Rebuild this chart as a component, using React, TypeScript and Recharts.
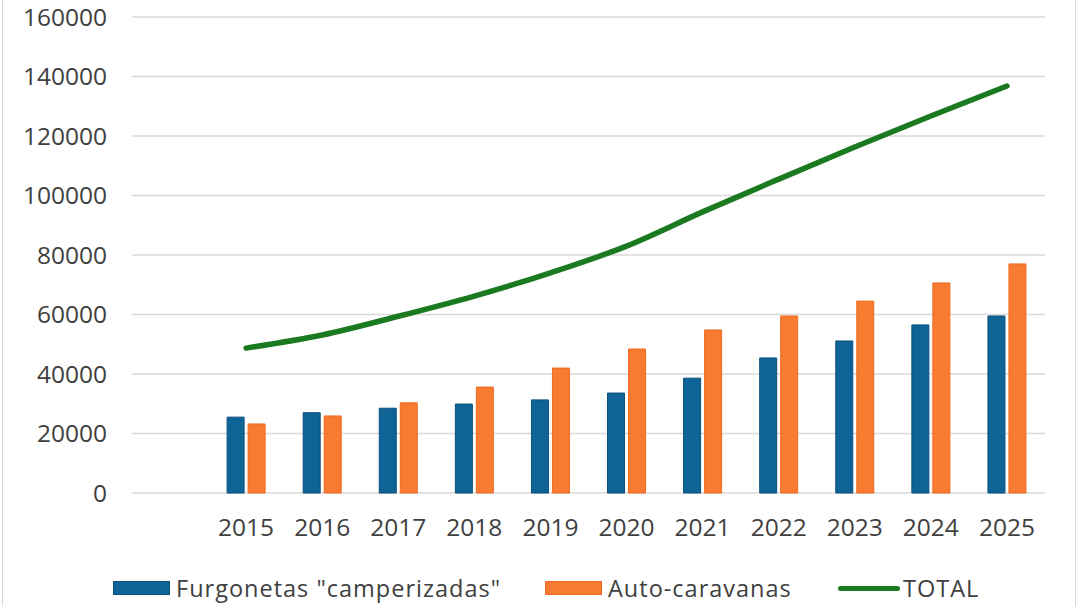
import {
  Bar,
  CartesianGrid,
  ComposedChart,
  Line,
  XAxis,
  YAxis,
} from "recharts";

const years = ["", "2015", "2016", "2017", "2018", "2019", "2020", "2021", "2022", "2023", "2024", "2025"];
const furgonetas = [null, 25500, 27000, 28500, 29900, 31300, 33600, 38600, 45400, 51100, 56500, 59500];
const autocaravanas = [null, 23200, 25900, 30300, 35600, 42000, 48400, 54800, 59500, 64500, 70600, 77000];
const total = [null, 48700, 53100, 59400, 66200, 74000, 83000, 94500, 105500, 116300, 126700, 136800];
const yTicks = [0, 20000, 40000, 60000, 80000, 100000, 120000, 140000, 160000];

const data = years.map((y, i) => ({
  year: y,
  furgonetas: furgonetas[i],
  autocaravanas: autocaravanas[i],
  total: total[i],
}));

const BLUE = "#0e6496";
const ORANGE = "#f77b31";
const GREEN = "#1b7a1f";
const TEXT = "#404040";

function LegendItem({ label, left, swatch }: { label: string; left: number; swatch: JSX.Element }) {
  return (
    <div style={{ position: "absolute", left, top: 0, height: 30, display: "flex", alignItems: "center" }}>
      {swatch}
      <span
        style={{
          marginLeft: 6,
          fontSize: 23.5,
          letterSpacing: 1,
          color: TEXT,
          whiteSpace: "nowrap",
          fontFamily: "'Open Sans', sans-serif",
        }}
      >
        {label}
      </span>
    </div>
  );
}

function ChartLegend() {
  return (
    <div style={{ position: "absolute", left: 0, top: 573, width: 1080, height: 30 }}>
      <LegendItem
        label='Furgonetas "camperizadas"'
        left={113}
        swatch={<div style={{ width: 55, height: 12, background: BLUE, border: "1px solid #0b4f7a" }} />}
      />
      <LegendItem
        label="Auto-caravanas"
        left={545}
        swatch={<div style={{ width: 55, height: 12, background: ORANGE, border: "1px solid #ee6a1e" }} />}
      />
      <LegendItem
        label="TOTAL"
        left={838}
        swatch={<div style={{ width: 62, height: 5, background: GREEN, borderRadius: 3, marginRight: -3 }} />}
      />
    </div>
  );
}

export default function App() {
  return (
    <div style={{ position: "absolute", left: 0, top: 0, width: 1080, height: 608, background: "#fff" }}>
      <div
        style={{
          position: "absolute",
          left: 2,
          top: 0,
          width: 1072,
          height: 606,
          borderLeft: "1px solid #d9d9d9",
          borderRight: "1px solid #d9d9d9",
        }}
      />
      <ComposedChart
        width={1080}
        height={608}
        data={data}
        margin={{ top: 17, right: 35, left: 0, bottom: 0 }}
        barCategoryGap="25%"
        barGap={4}
        style={{ fontFamily: "'Open Sans', 'Liberation Sans', sans-serif" }}
      >
        <CartesianGrid vertical={false} stroke="#d9d9d9" strokeWidth={1.5} />
        <XAxis
          dataKey="year"
          axisLine={false}
          tickLine={false}
          interval={0}
          height={115}
          tickMargin={20}
          tick={{ fill: TEXT, fontSize: 24.5 }}
        />
        <YAxis
          domain={[0, 160000]}
          ticks={yTicks}
          interval={0}
          axisLine={false}
          tickLine={false}
          width={132}
          tickMargin={19}
          tick={{ fill: TEXT, fontSize: 24.5 }}
        />
        <Bar dataKey="furgonetas" name='Furgonetas "camperizadas"' fill={BLUE} stroke="#0b4f7a" strokeWidth={1} isAnimationActive={false} />
        <Bar dataKey="autocaravanas" name="Auto-caravanas" fill={ORANGE} stroke="#ee6a1e" strokeWidth={1} isAnimationActive={false} />
        <Line
          dataKey="total"
          name="TOTAL"
          type="monotone"
          stroke={GREEN}
          strokeWidth={5.5}
          dot={false}
          strokeLinecap="round"
          isAnimationActive={false}
        />
      </ComposedChart>
      <ChartLegend />
    </div>
  );
}
